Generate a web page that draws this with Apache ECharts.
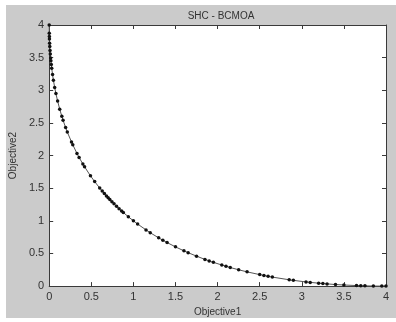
<!DOCTYPE html>
<html>
<head>
<meta charset="utf-8">
<script src="https://cdn.jsdelivr.net/npm/echarts@6/dist/echarts.min.js"></script>
<style>
  html, body { margin: 0; padding: 0; background: #ffffff; }
  #chart { width: 396px; height: 322px; }
</style>
</head>
<body>
<div id="chart"></div>
<script>
// Pareto front samples found by the optimizer
const objective1 = [
  0.000, 0.001, 0.002, 0.003, 0.005, 0.007, 0.010, 0.013, 0.017, 0.020,
  0.025, 0.030, 0.040, 0.050, 0.065, 0.080, 0.100, 0.125, 0.150, 0.165,
  0.195, 0.215, 0.265, 0.280, 0.330, 0.355, 0.400, 0.420, 0.490, 0.540,
  0.600, 0.630, 0.655, 0.680, 0.700, 0.720, 0.745, 0.770, 0.800, 0.830,
  0.860, 0.880, 0.940, 1.000, 1.050, 1.150, 1.200, 1.300, 1.350, 1.400,
  1.500, 1.600, 1.650, 1.750, 1.850, 1.900, 1.950, 2.050, 2.100, 2.150,
  2.250, 2.350, 2.500, 2.550, 2.600, 2.650, 2.850, 2.900, 3.050, 3.100,
  3.200, 3.250, 3.300, 3.400, 3.500, 3.650, 3.700, 3.750, 3.850, 3.950,
  4.000
];
const objective2 = [
  4.000, 3.874, 3.823, 3.784, 3.722, 3.672, 3.610, 3.557, 3.496, 3.454,
  3.393, 3.337, 3.240, 3.155, 3.044, 2.949, 2.835, 2.711, 2.601, 2.540,
  2.429, 2.360, 2.209, 2.166, 2.032, 1.972, 1.870, 1.828, 1.690, 1.601,
  1.502, 1.455, 1.418, 1.382, 1.353, 1.326, 1.293, 1.260, 1.222, 1.186,
  1.150, 1.128, 1.062, 1.000, 0.951, 0.861, 0.818, 0.739, 0.703, 0.667,
  0.601, 0.540, 0.512, 0.459, 0.409, 0.386, 0.364, 0.323, 0.304, 0.285,
  0.250, 0.218, 0.176, 0.162, 0.150, 0.138, 0.097, 0.088, 0.064, 0.057,
  0.045, 0.039, 0.034, 0.024, 0.017, 0.008, 0.006, 0.004, 0.001, 0.000,
  0.000
];
const tickLabels = ['0', '0.5', '1', '1.5', '2', '2.5', '3', '3.5', '4'];

const points = objective1.map((x, i) => [x, objective2[i]]);

const labelFont = { fontFamily: 'Liberation Sans, Arial, sans-serif', fontSize: 11, color: '#333333' };
const lineColor = '#3a3a3a';

function axisBase(showLabels) {
  return {
    type: 'value',
    min: 0,
    max: 4,
    interval: 0.5,
    axisLine: { show: true, onZero: false, lineStyle: { color: lineColor, width: 1 } },
    axisTick: { show: true, inside: true, length: 4, lineStyle: { color: lineColor } },
    splitLine: { show: false },
    axisLabel: showLabels
      ? Object.assign({ show: true, margin: 5, formatter: v => tickLabels[Math.round(v * 2)] }, labelFont)
      : { show: false }
  };
}

const chart = echarts.init(document.getElementById('chart'), null, { renderer: 'canvas' });
chart.setOption({
  animation: false,
  backgroundColor: '#ffffff',
  graphic: [{
    type: 'rect',
    z: -10,
    silent: true,
    shape: { x: 6, y: 5, width: 390, height: 313 },
    style: { fill: '#cbcbcb' }
  }],
  title: {
    text: 'SHC - BCMOA',
    left: 216,
    top: 6,
    textAlign: 'center',
    textStyle: { fontFamily: 'Liberation Sans, Arial, sans-serif', fontSize: 10, fontWeight: 'normal', color: '#333333' }
  },
  grid: {
    left: 48, right: 10, top: 25, bottom: 31,
    show: true, backgroundColor: '#ffffff', borderWidth: 0
  },
  xAxis: [
    Object.assign(axisBase(true), {
      position: 'bottom',
      name: 'Objective1',
      nameLocation: 'middle',
      nameGap: 20,
      nameTextStyle: { fontFamily: 'Liberation Sans, Arial, sans-serif', fontSize: 10, color: '#333333' }
    }),
    Object.assign(axisBase(false), { position: 'top' })
  ],
  yAxis: [
    Object.assign(axisBase(true), {
      position: 'left',
      name: 'Objective2',
      nameLocation: 'middle',
      nameGap: 27,
      nameTextStyle: { fontFamily: 'Liberation Sans, Arial, sans-serif', fontSize: 10, color: '#333333' }
    }),
    Object.assign(axisBase(false), { position: 'right' })
  ],
  series: [{
    type: 'line',
    xAxisIndex: 0,
    yAxisIndex: 0,
    data: points,
    symbol: 'circle',
    symbolSize: 3.5,
    showAllSymbol: true,
    clip: false,
    lineStyle: { color: '#555555', width: 1 },
    itemStyle: { color: '#111111' }
  }]
});
</script>
</body>
</html>
